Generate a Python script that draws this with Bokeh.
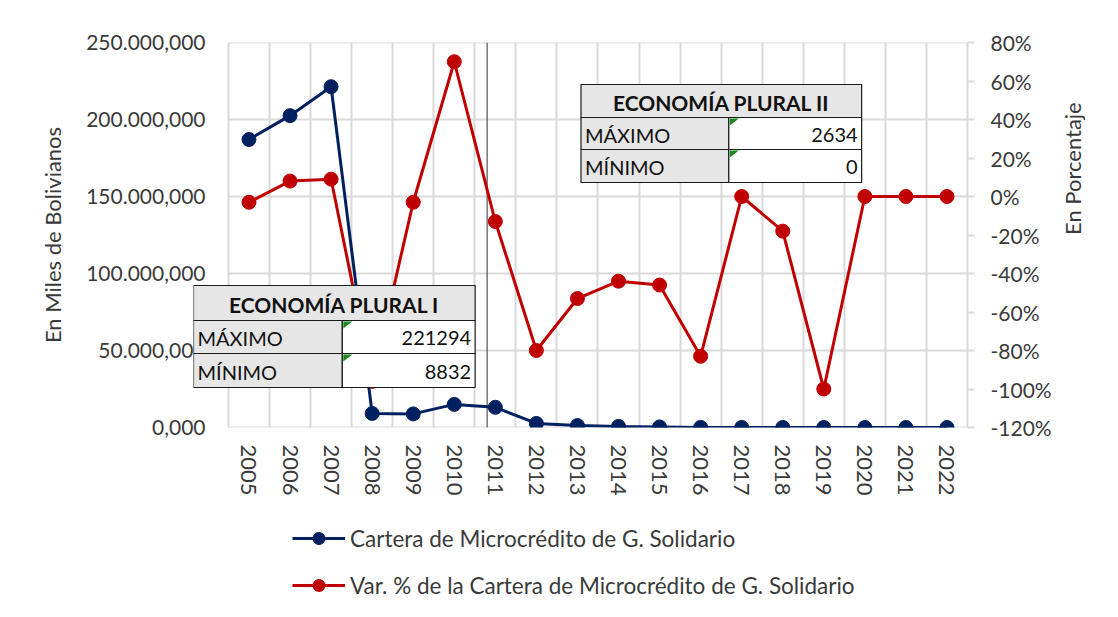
import math
import numpy as np
from bokeh.plotting import figure
from bokeh.layouts import column
from bokeh.models import (Range1d, LinearAxis, FixedTicker, Span, BoxAnnotation,
                          Label, Legend, LegendItem, PolyAnnotation)
from bokeh.embed import file_html
from bokeh.resources import INLINE

# ---------------- data ----------------
years = ["2005", "2006", "2007", "2008", "2009", "2010", "2011", "2012", "2013",
         "2014", "2015", "2016", "2017", "2018", "2019", "2020", "2021", "2022"]
cartera = [187.0e6, 202.5e6, 221.294e6, 9.1e6, 8.832e6, 15.0e6, 13.1e6, 2.634e6,
           1.24e6, 0.70e6, 0.38e6, 0.06e6, 0.06e6, 0.05e6, 0.0, 0.0, 0.0, 0.0]
var_pct = [-3, 8, 9, -96, -3, 70, -13, -80, -53, -44, -46, -83, 0, -18, -100, 0, 0, 0]

left_ticks = [0, 50e6, 100e6, 150e6, 200e6, 250e6]
left_tick_labels = ["0,000", "50.000,000", "100.000,000", "150.000,000",
                    "200.000,000", "250.000,000"]
right_ticks = [-120, -100, -80, -60, -40, -20, 0, 20, 40, 60, 80]
right_tick_labels = ["-120%", "-100%", "-80%", "-60%", "-40%", "-20%", "0%",
                     "20%", "40%", "60%", "80%"]

name_cartera = "Cartera de Microcrédito de G. Solidario"
name_var = "Var. % de la Cartera de Microcrédito de G. Solidario"

table1_title = "ECONOMÍA PLURAL I"
table1_rows = [("MÁXIMO", "221294"), ("MÍNIMO", "8832")]
table2_title = "ECONOMÍA PLURAL II"
table2_rows = [("MÁXIMO", "2634"), ("MÍNIMO", "0")]
divider_x = 5.8  # boundary between the two periods

# ---------------- style ----------------
FONT = "Lato"
TXT = "#3a3a3a"
GRID = "#d9d9d9"
BLUE = "#002060"
RED = "#c00000"

# page-pixel geometry (used only to place the frame and annotations)
CL, CR, FT, FB = 228.0, 968.0, 42.0, 427.0   # category area
FL = 193.0                                    # frame extends left so table I fits
N = len(years)
UNIT = (CR - CL) / N


def fx(px):
    return -0.5 + (px - CL) / UNIT


Y0, Y1 = 0.0, 250e6


def fy(py):
    return Y0 + (FB - py) / (FB - FT) * (Y1 - Y0)


W, H1, H2 = 1102, 505, 96
p = figure(width=W, height=H1, x_range=Range1d(fx(FL), N - 0.5), y_range=Range1d(Y0, Y1),
           output_backend="svg", toolbar_location=None,
           min_border_left=int(FL), min_border_right=int(W - CR),
           min_border_top=int(FT), min_border_bottom=int(H1 - FB))
p.outline_line_color = None
p.background_fill_color = "white"
p.border_fill_color = "white"

# grids
p.xgrid.ticker = FixedTicker(ticks=[i - 0.5 for i in range(N + 1)])
p.xgrid.grid_line_color = GRID
p.xgrid.grid_line_width = 2
p.ygrid.grid_line_color = None
p.segment(x0=[-0.5] * len(left_ticks), x1=[N - 0.5] * len(left_ticks),
          y0=left_ticks, y1=left_ticks, line_color=GRID, line_width=2, level="underlay")

# x axis
xa = p.xaxis[0]
xa.ticker = FixedTicker(ticks=list(range(N)))
xa.major_label_overrides = {i: y for i, y in enumerate(years)}
xa.major_label_orientation = "vertical"
xa.major_tick_line_color = None
xa.minor_tick_line_color = None
xa.axis_line_color = None
xa.major_label_text_font = FONT
xa.major_label_text_font_size = "22px"
xa.major_label_text_color = TXT
xa.major_label_standoff = 11

# left axis
ya = p.yaxis[0]
ya.ticker = FixedTicker(ticks=left_ticks)
ya.major_label_overrides = {t: s for t, s in zip(left_ticks, left_tick_labels)}
ya.major_tick_line_color = None
ya.minor_tick_line_color = None
ya.axis_line_color = None
ya.major_label_text_font = FONT
ya.major_label_text_font_size = "21px"
ya.major_label_text_color = TXT
ya.major_label_standoff = -18
ya.axis_label = "En Miles de Bolivianos"
ya.axis_label_text_font = FONT
ya.axis_label_text_font_size = "22px"
ya.axis_label_text_font_style = "normal"
ya.axis_label_text_color = TXT
ya.axis_label_standoff = 17

# right axis
p.extra_y_ranges = {"pct": Range1d(-120, 80)}
ra = LinearAxis(y_range_name="pct")
ra.ticker = FixedTicker(ticks=right_ticks)
ra.major_label_overrides = {t: s for t, s in zip(right_ticks, right_tick_labels)}
ra.major_tick_line_color = GRID
ra.major_tick_line_width = 2
ra.major_tick_out = 7
ra.major_tick_in = 0
ra.minor_tick_line_color = None
ra.axis_line_color = GRID
ra.axis_line_width = 2
ra.major_label_text_font = FONT
ra.major_label_text_font_size = "21px"
ra.major_label_text_color = TXT
ra.major_label_standoff = 16
ra.axis_label = "En Porcentaje"
ra.axis_label_text_font = FONT
ra.axis_label_text_font_size = "22px"
ra.axis_label_text_font_style = "normal"
ra.axis_label_text_color = TXT
ra.axis_label_standoff = 18
if "axis_label_orientation" in ra.properties():
    ra.axis_label_orientation = math.pi / 2
p.add_layout(ra, "right")

# divider
sp = Span(location=divider_x, dimension="height", line_color="#303030", line_width=1)
sp.level = "underlay"
p.add_layout(sp)

# series
xs = list(range(N))
p.line(xs, cartera, line_color=BLUE, line_width=3)
p.scatter(xs, cartera, size=14, fill_color=BLUE, line_color=BLUE)
p.line(xs, var_pct, line_color=RED, line_width=3, y_range_name="pct")
p.scatter(xs, var_pct, size=14, fill_color=RED, line_color=RED, y_range_name="pct")


# tables (annotations)
def draw_table(l, r, split, t, r1, r2, b, title, rows):
    cells = [(l, r, t, r1, "#e7e6e6"),
             (l, split, r1, r2, "#e7e6e6"), (split, r, r1, r2, "white"),
             (l, split, r2, b, "#e7e6e6"), (split, r, r2, b, "white")]
    for (cl, cr, ct, cb, col) in cells:
        p.add_layout(BoxAnnotation(left=fx(cl), right=fx(cr), top=fy(ct), bottom=fy(cb),
                                   fill_color=col, fill_alpha=1, line_color="#1a1a1a",
                                   line_alpha=1, line_width=1.2))
    for (ct, cb) in [(r1, r2), (r2, b)]:
        p.add_layout(PolyAnnotation(xs=[fx(split + 1), fx(split + 10), fx(split + 1)],
                                    ys=[fy(ct + 1), fy(ct + 1), fy(ct + 8)],
                                    fill_color="#1f8a1f", fill_alpha=1, line_color=None))
    p.add_layout(Label(x=fx((l + r) / 2), y=fy((t + r1) / 2 + 1), text=title,
                       text_align="center", text_baseline="middle", text_font=FONT,
                       text_font_style="bold", text_font_size="21px", text_color="#111111"))
    for (ct, cb), (lab, val) in zip([(r1, r2), (r2, b)], rows):
        yc = fy((ct + cb) / 2 + 1)
        p.add_layout(Label(x=fx(l + 4), y=yc, text=lab, text_align="left",
                           text_baseline="middle", text_font=FONT, text_font_size="20px",
                           text_color="#111111"))
        p.add_layout(Label(x=fx(r - 4), y=yc, text=val, text_align="right",
                           text_baseline="middle", text_font=FONT, text_font_size="20px",
                           text_color="#111111"))


draw_table(193, 475, 342, 285, 320, 353, 387, table1_title, table1_rows)
draw_table(581, 862, 729, 84, 117, 149, 182, table2_title, table2_rows)

# ---------------- legend strip (separate figure below the chart) ----------------
q = figure(width=W, height=H2, x_range=Range1d(0, 1), y_range=Range1d(0, 1),
           output_backend="svg", toolbar_location=None,
           min_border_left=0, min_border_right=0, min_border_top=0, min_border_bottom=0)
q.axis.visible = False
q.grid.visible = False
q.outline_line_color = None
nan = np.array([np.nan])
ql1 = q.line(nan, nan, line_color=BLUE, line_width=3)
qs1 = q.scatter(nan, nan, size=14, fill_color=BLUE, line_color=BLUE)
ql2 = q.line(nan, nan, line_color=RED, line_width=3)
qs2 = q.scatter(nan, nan, size=14, fill_color=RED, line_color=RED)
# the strip's frame is aligned with the chart's frame (which starts at FL)
legend = Legend(items=[LegendItem(label=name_cartera, renderers=[ql1, qs1], index=0),
                       LegendItem(label=name_var, renderers=[ql2, qs2], index=0)],
                location=(int(292 - FL), 1), orientation="vertical",
                label_text_font=FONT, label_text_font_size="22.5px", label_text_color=TXT,
                glyph_width=53, glyph_height=30, label_height=30, label_standoff=5,
                spacing=17, padding=0, margin=0, border_line_color=None,
                background_fill_alpha=0)
q.add_layout(legend, "center")

layout = column(p, q, spacing=0)
open("out.html", "w").write(file_html(layout, INLINE))
